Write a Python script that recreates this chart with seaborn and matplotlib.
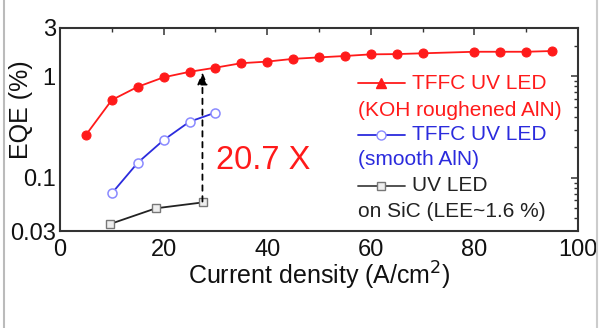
import matplotlib
matplotlib.use("Agg")
import matplotlib.pyplot as plt
import seaborn as sns
import pandas as pd
import numpy as np
from matplotlib.lines import Line2D
from matplotlib.ticker import FixedLocator, LogLocator, NullFormatter, MultipleLocator

sns.set_theme(style="white")
plt.rcParams['font.family'] = ['Liberation Sans', 'DejaVu Sans']

# Data
red_x = [5, 10, 15, 20, 25, 30, 35, 40, 45, 50, 55, 60, 65, 70, 80, 85, 90, 95]
red_y = [0.265, 0.586, 0.79, 0.98, 1.11, 1.22, 1.35, 1.40, 1.49, 1.54, 1.59, 1.65, 1.66, 1.69, 1.75, 1.75, 1.75, 1.78]
blue_x = [10, 15, 20, 25, 30]
blue_y = [0.0705, 0.141, 0.236, 0.358, 0.44]
black_x = [9.7, 18.5, 27.7]
black_y = [0.0352, 0.0502, 0.0575]
arrow_x = 27.5
arrow_y = [0.0585, 1.10]
ratio_text = "20.7 X"
legend_lines = [
    ("TFFC UV LED", "(KOH roughened AlN)"),
    ("TFFC UV LED", "(smooth AlN)"),
    ("UV LED", "on SiC (LEE~1.6 %)"),
]
xticks = [0, 20, 40, 60, 80, 100]
yticks = [0.03, 0.1, 1, 3]
ytick_labels = ["0.03", "0.1", "1", "3"]

RED = "#ff1a1a"
BLUE = "#2b2bdd"
BLUE_M = "#8a8aff"
BLACK = "#222222"

fig = plt.figure(figsize=(6.03, 3.28), dpi=100)
ax = fig.add_axes([60/603, 1-231/328, 518/603, 203/328])

df_r = pd.DataFrame({"x": red_x, "y": red_y})
df_b = pd.DataFrame({"x": blue_x, "y": blue_y})
df_k = pd.DataFrame({"x": black_x, "y": black_y})

sns.lineplot(data=df_r, x="x", y="y", ax=ax, color=RED, lw=1.3, marker="o",
             markersize=6.5, markerfacecolor=RED, markeredgecolor=RED)
sns.lineplot(data=df_b, x="x", y="y", ax=ax, color=BLUE, lw=1.3, marker="o",
             markersize=6.5, markerfacecolor="white", markeredgecolor=BLUE_M, markeredgewidth=1.1)
sns.lineplot(data=df_k, x="x", y="y", ax=ax, color=BLACK, lw=1.3, marker="s",
             markersize=5.5, markerfacecolor="#eeeeee", markeredgecolor="#777777", markeredgewidth=1.0)

ax.annotate("", xy=(arrow_x, arrow_y[1]), xytext=(arrow_x, arrow_y[0]),
            arrowprops=dict(arrowstyle="-|>,head_length=0.6,head_width=0.25", color="black",
                            linestyle=(0, (3, 3)), lw=1.3, shrinkA=0, shrinkB=0))

ax.text(39.3, 0.15, ratio_text, color=RED, fontsize=23.5, ha="center", va="center")

ax.set_yscale("log")
ax.set_xlim(0, 100)
ax.set_ylim(0.03, 3)
ax.xaxis.set_major_locator(FixedLocator(xticks))
ax.xaxis.set_minor_locator(MultipleLocator(10))
ax.yaxis.set_major_locator(FixedLocator(yticks))
ax.set_yticklabels(ytick_labels)
ax.yaxis.set_minor_locator(LogLocator(base=10, subs=np.arange(2, 10)))
ax.yaxis.set_minor_formatter(NullFormatter())
ax.tick_params(which="both", direction="in", top=True, right=True, labelsize=17,
               colors="#333333", labelcolor="#111111")
ax.tick_params(which="major", length=5, width=1.1)
ax.tick_params(axis="x", which="major", pad=6)
ax.tick_params(axis="y", which="major", pad=3)
ax.tick_params(which="minor", length=3, width=1.0)
ax.set_xlabel("Current density (A/cm$^2$)", fontsize=18, color="#111111", labelpad=-1)
ax.set_ylabel("EQE (%)", fontsize=18, color="#111111")
ax.yaxis.set_label_coords(-0.052, 0.596)
for s in ax.spines.values():
    s.set_color("#333333")
    s.set_linewidth(1.5)

# legend (manual, axes coordinates)
rows = [0.729, 0.596, 0.473, 0.350, 0.222, 0.094]
hx0, hx1, hm, tx = 0.575, 0.666, 0.620, 0.680
fs = 15
specs = [
    (RED, dict(marker="^", markersize=7.5, markerfacecolor=RED, markeredgecolor=RED), RED),
    (BLUE, dict(marker="o", markersize=6.5, markerfacecolor="white", markeredgecolor=BLUE_M), BLUE),
    ("#444444", dict(marker="s", markersize=5.5, markerfacecolor="#eeeeee", markeredgecolor="#777777"), BLACK),
]
for i, ((l1, l2), (lc, mk, tc)) in enumerate(zip(legend_lines, specs)):
    y1 = rows[2*i]
    y2 = rows[2*i+1]
    ax.add_line(Line2D([hx0, hx1], [y1, y1], color=lc, lw=1.3, transform=ax.transAxes))
    ax.add_line(Line2D([hm], [y1], color=lc, transform=ax.transAxes, **mk))
    ax.text(tx, y1, l1, color=tc, fontsize=fs, transform=ax.transAxes, va="center", ha="left")
    ax.text(hx0, y2, l2, color=tc, fontsize=fs, transform=ax.transAxes, va="center", ha="left")

# screenshot border lines
fig.add_artist(Line2D([4/603, 4/603], [0, 1], color="#bbbbbb", lw=1.5, transform=fig.transFigure))
fig.add_artist(Line2D([597/603, 597/603], [0, 1], color="#cccccc", lw=1.5, transform=fig.transFigure))

fig.savefig("out.png", dpi=100)
